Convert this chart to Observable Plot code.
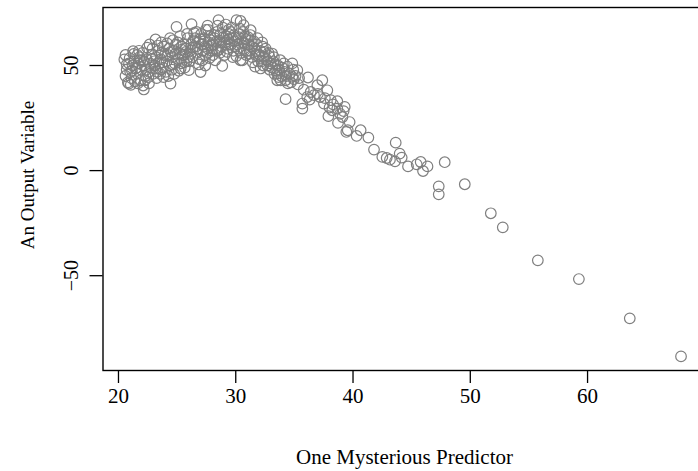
<!DOCTYPE html>
<html>
<head>
<meta charset="utf-8">
<script src="https://cdn.jsdelivr.net/npm/d3@7"></script>
<script src="https://cdn.jsdelivr.net/npm/@observablehq/plot@0.6"></script>
<style>
  html, body { margin: 0; padding: 0; background: #fff; }
  svg { overflow: hidden; }
</style>
</head>
<body>
<div id="chart"></div>
<script>
const xTicks = [20, 30, 40, 50, 60];
const yTicks = [-50, 0, 50];
const xTitle = "One Mysterious Predictor";
const yTitle = "An Output Variable";

const predictor = [
  20.5,20.6,20.7,20.8,20.9,20.6,20.88,20.7,21.0,20.95,
  21.1,21.2,21.3,21.15,21.4,21.35,21.45,21.25,21.05,
  21.6,21.7,21.8,21.55,21.9,21.75,21.65,21.95,21.85,21.6,
  22.16,22.1,22.3,22.2,22.4,22.05,22.35,22.45,22.25,22.15,
  22.6,22.7,22.8,22.55,22.9,22.65,22.75,22.85,22.95,22.6,
  23.16,23.1,23.2,23.3,23.4,23.05,23.25,23.35,23.45,23.15,
  23.6,23.7,23.8,23.55,23.9,23.65,23.75,23.85,23.95,23.6,
  24.1,24.2,24.3,24.44,24.05,24.35,24.15,24.4,24.25,24.45,
  24.6,24.7,24.8,24.95,24.55,24.9,24.65,24.75,24.85,24.6,
  25.1,25.3,25.2,25.4,25.05,25.35,25.25,25.45,25.15,25.4,
  25.6,25.7,25.8,25.55,25.9,25.65,25.75,25.85,25.95,25.6,
  26.0,26.23,26.1,26.2,26.3,26.4,26.05,26.35,26.45,26.15,
  26.6,26.7,26.8,26.55,26.9,27.0,26.65,26.75,26.85,26.95,
  27.1,27.2,27.3,27.4,27.05,27.35,27.45,27.15,27.25,27.4,
  27.6,27.7,27.8,27.55,27.9,27.65,27.75,27.85,27.95,27.6,
  28.1,28.2,28.3,28.4,28.05,28.35,28.45,28.15,28.25,28.4,
  28.53,28.85,28.6,28.7,28.8,28.65,28.9,28.75,28.95,28.55,
  29.1,29.2,29.3,29.4,29.05,29.35,29.45,29.15,29.25,29.4,
  29.6,29.7,29.8,29.55,29.9,29.65,29.75,29.85,29.95,30.07,
  30.1,30.2,30.3,30.4,30.41,30.15,30.35,30.45,30.25,30.05,
  30.56,30.67,30.6,30.7,30.8,30.9,30.65,30.75,30.85,30.95,
  31.27,31.1,31.2,31.3,31.4,31.05,31.35,31.45,31.15,31.25,
  31.6,31.7,31.8,31.9,31.55,31.65,31.75,31.85,31.95,
  32.12,32.4,32.1,32.2,32.3,32.05,32.35,32.45,32.25,
  32.6,32.7,32.8,32.9,32.55,32.75,32.85,32.95,
  33.1,33.1,33.2,33.3,33.4,33.25,33.45,
  33.54,33.54,33.83,33.6,33.7,33.8,33.9,33.65,33.95,
  34.1,34.25,34.25,34.15,34.3,34.4,34.45,
  34.82,34.82,34.6,34.7,34.9,34.95,
  35.25,35.1,35.3,35.4,
  35.68,35.68,35.8,36.1,36.16,36.3,36.39,36.67,36.96,37.0,37.18,37.38,37.52,37.6,37.81,37.9,
  38.0,38.1,38.23,38.3,38.66,38.66,38.72,38.9,39.1,39.2,39.29,39.43,39.55,39.71,
  40.31,40.65,41.31,41.79,42.5,42.87,43.15,43.58,43.64,43.98,44.15,44.69,
  45.43,45.77,45.97,46.35,47.31,47.31,47.82,49.53,51.75,52.77,55.76,59.26,63.6,67.97
];

const output = [
  52.9,45,48,42,51,55,41.4,50.5,47,53.5,
  44,50,55.5,47.5,42.5,52,48.5,56.8,40.8,
  46,51,54,49,43,57,41.5,48,52.5,55,
  38.6,40.5,45,50,53,56,48,58.5,43,52,
  47,51,55,44.5,58,60,49,53,46,41.5,
  62.4,50,54,47,57,52,44,59.5,51,48.5,
  53,56,49,46,59,61,51.5,44.5,55,48,
  52,55,58,41.4,47,50,60.5,63,45,56.5,
  54,57,51,68.4,48,60,62,46,55.5,50.5,
  53,48.6,56,59,61,51,64,55,47.5,57.5,
  55,58,52,60,63,49,56.5,65,54,51.5,
  47.8,69.7,57,60,54,62,52,58.5,65.5,55.5,
  59,56,61,63,53,46.9,66,58,50.5,62.5,
  60,57,63,55,65,59,67,52.5,61.5,50,
  58,61,64,56,59.5,67,53.5,62,57,69,
  60,63,58,66,55,61.5,69,64.5,52.5,57,
  71.6,49.8,62,65,59,56,68,61,63.5,57.5,
  61,64,58,67,55,62.5,60,69.5,56.5,65,
  60,63,57,66,61.5,68,54,64.5,59,71.6,
  62,58,65,52.5,71.2,60,67.5,56,63.5,54.5,
  52.5,69.2,61,58,64,55,66,60.5,62.5,57,
  66.8,60,57,62,54,63.5,59,51.5,55.5,64.5,
  58,55,60,52,61.5,49.5,57,63,54.5,
  48.6,54.1,57,52,59,55,50,56.5,61,
  53,50,56,48,58,52,54.5,51,
  55.7,49,52,46,50.5,54,47.5,
  46.2,43,43,50,48,52.5,45,44.5,49,
  51,43,34,47,45,49.5,41.5,
  51,44.6,46,42,48,43.5,
  47.8,45,41,44,
  31.9,29.5,38.5,35,44.3,33.8,37.4,35.9,40.6,36.5,35,43,31.9,34.5,38.2,25.9,
  30,33.5,28.7,31.5,33,29.5,22.7,27,25.5,28.3,30.3,18.4,19.2,23.1,
  16.5,19.2,15.7,10.0,6.5,6.0,5.2,4.4,13.3,8.1,6.2,2.0,
  3.0,4.1,-0.2,2.0,-7.5,-11.3,4.0,-6.5,-20.3,-27.0,-42.7,-51.6,-70.3,-88.4
];

const data = predictor.map((x, i) => ({x, y: output[i]}));

const font = "'Liberation Serif', 'Times New Roman', Times, serif";

const chart = Plot.plot({
  width: 698,
  height: 471,
  marginLeft: 102.5,
  marginRight: -7.5,
  marginTop: 7,
  marginBottom: 101,
  style: {fontFamily: font, fontSize: "20px", color: "#000", background: "#fff"},
  x: {domain: [18.68, 70.1]},
  y: {domain: [-95.1, 77.6]},
  marks: [
    Plot.frame({stroke: "#000", strokeWidth: 1.4}),
    Plot.axisX({ticks: xTicks, tickSize: 13, tickPadding: 5, tickFormat: d => String(d), label: null, strokeWidth: 1.3, fontSize: 21}),
    Plot.axisY({ticks: yTicks, tickSize: 13, tickFormat: () => "", label: null, strokeWidth: 1.3}),
    Plot.text(yTicks, {y: d => d, text: d => d < 0 ? "\u2212" + Math.abs(d) : String(d), rotate: -90, frameAnchor: "left", textAnchor: "middle", dx: -31, fontSize: 20}),
    Plot.text([xTitle], {text: d => d, frameAnchor: "bottom", dy: 93, fontSize: 21}),
    Plot.text([yTitle], {text: d => d, frameAnchor: "left", textAnchor: "middle", rotate: -90, dx: -75, dy: -14, fontSize: 19}),
    Plot.dot(data, {x: "x", y: "y", r: 5.3, stroke: "#7f7f7f", strokeWidth: 1.2, fill: "none"})
  ]
});
document.getElementById("chart").appendChild(chart);
</script>
</body>
</html>
